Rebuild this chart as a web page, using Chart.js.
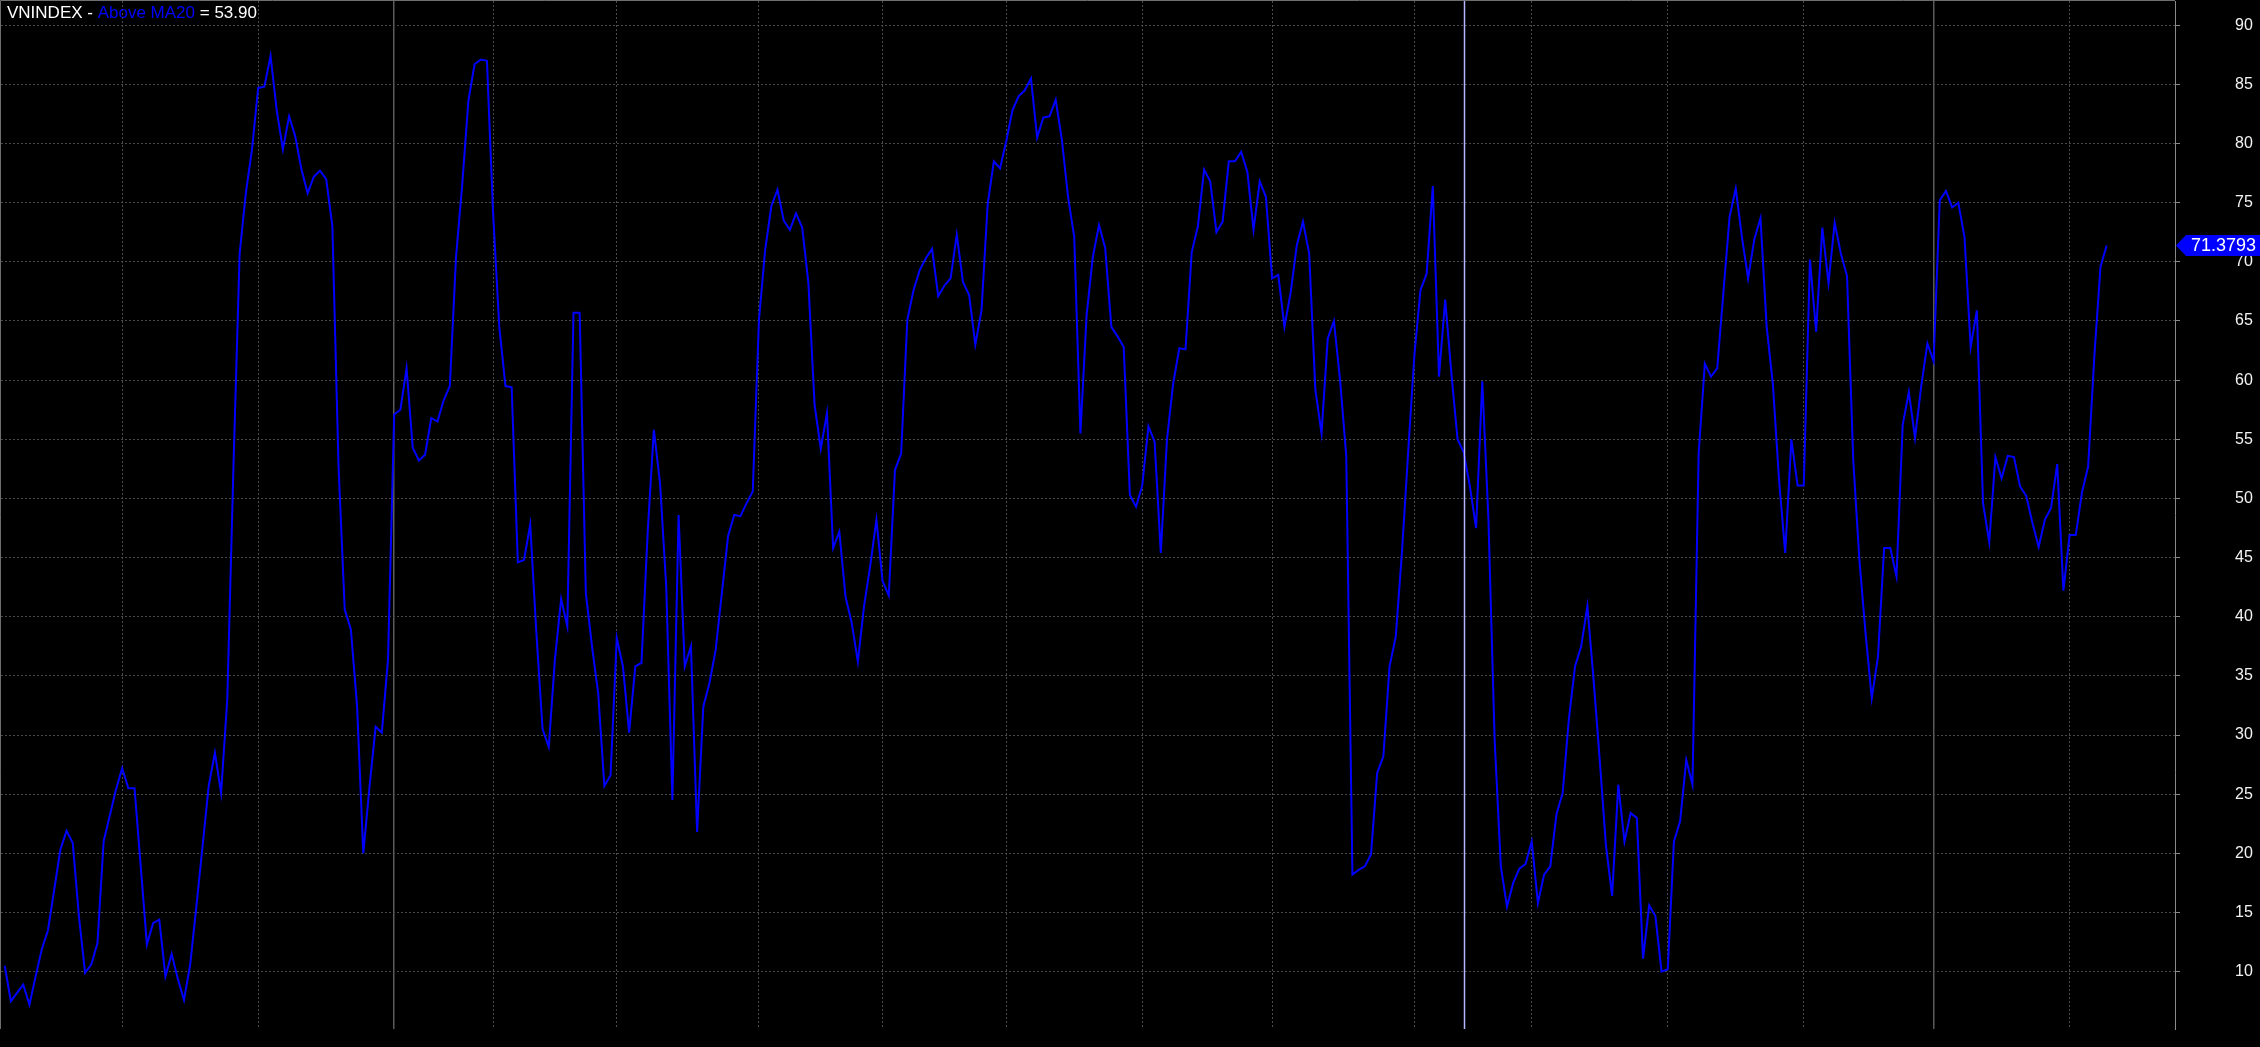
<!DOCTYPE html>
<html>
<head>
<meta charset="utf-8">
<title>VNINDEX - Above MA20</title>
<script src="https://cdn.jsdelivr.net/npm/chart.js@4.4.0/dist/chart.umd.min.js"></script>
<style>
  html, body { margin: 0; padding: 0; background: #000; overflow: hidden; }
  #wrap { width: 2260px; height: 1047px; }
</style>
</head>
<body>
<div id="wrap"><canvas id="breadthChart" width="2260" height="1047"></canvas></div>
<script>
// % of VNINDEX stocks closing above their 20-day moving average (one value per session)
const aboveMA20 = [
  10.5, 7.5, 8.2, 8.9, 7.2, 9.6, 11.9, 13.5, 16.9, 20.3,
  21.9, 20.9, 14.7, 9.9, 10.6, 12.4, 21.0, 23.2, 25.4, 27.2,
  25.5, 25.5, 18.9, 12.3, 14.1, 14.4, 9.6, 11.5, 9.4, 7.6,
  10.6, 15.5, 20.6, 25.7, 28.5, 25.1, 33.0, 52.7, 70.7, 75.8,
  79.5, 84.7, 84.8, 87.4, 82.8, 79.5, 82.3, 80.6, 77.8, 75.8,
  77.2, 77.7, 77.0, 73.0, 52.7, 40.6, 38.9, 32.4, 20.0, 25.6,
  30.7, 30.2, 36.4, 57.1, 57.5, 61.0, 54.3, 53.2, 53.7, 56.8,
  56.5, 58.3, 59.5, 70.4, 76.5, 83.6, 86.7, 87.1, 87.0, 74.1,
  64.5, 59.5, 59.4, 44.6, 44.8, 47.8, 38.6, 30.5, 29.0, 36.4,
  41.5, 39.2, 65.7, 65.7, 42.0, 37.5, 33.5, 25.7, 26.6, 38.2,
  35.8, 30.2, 35.8, 36.1, 47.1, 55.8, 51.3, 42.6, 24.5, 48.6,
  35.8, 37.5, 21.8, 32.4, 34.4, 37.2, 42.0, 46.8, 48.6, 48.5,
  49.6, 50.6, 65.1, 71.0, 74.7, 76.1, 73.5, 72.7, 74.1, 72.9,
  68.2, 57.9, 54.2, 57.2, 45.8, 47.2, 41.7, 39.5, 36.2, 40.9,
  44.3, 48.2, 43.0, 41.8, 52.4, 53.8, 65.1, 67.6, 69.3, 70.3,
  71.1, 67.1, 68.0, 68.6, 72.3, 68.3, 67.2, 63.0, 65.9, 74.9,
  78.5, 77.9, 80.2, 82.8, 84.0, 84.5, 85.5, 80.5, 82.2, 82.3,
  83.7, 80.3, 75.5, 72.1, 55.5, 65.5, 70.4, 73.1, 71.2, 64.5,
  63.7, 62.8, 50.3, 49.3, 51.1, 56.1, 54.8, 45.4, 55.0, 59.7,
  62.7, 62.6, 70.8, 73.0, 77.8, 76.8, 72.5, 73.4, 78.5, 78.5,
  79.3, 77.6, 72.7, 76.8, 75.5, 68.6, 68.9, 64.5, 67.4, 71.4,
  73.4, 70.7, 59.2, 55.5, 63.5, 65.0, 60.0, 53.6, 18.2, 18.6,
  18.9, 19.9, 26.8, 28.2, 35.8, 38.3, 45.4, 53.8, 62.0, 67.6,
  69.0, 76.4, 60.3, 66.8, 60.6, 55.0, 53.9, 51.0, 47.5, 59.9,
  48.2, 29.6, 18.9, 15.5, 17.5, 18.7, 19.1, 21.0, 15.8, 18.2,
  18.9, 23.3, 25.1, 31.3, 35.8, 37.5, 40.9, 34.7, 27.9, 20.7,
  16.4, 25.8, 21.0, 23.4, 23.0, 11.1, 15.6, 14.7, 10.0, 10.2,
  21.0, 22.7, 27.9, 25.8, 53.8, 61.4, 60.3, 61.0, 67.4, 73.8,
  76.2, 72.1, 68.6, 71.9, 73.7, 64.5, 59.7, 51.6, 45.4, 55.0,
  51.1, 51.1, 70.2, 64.1, 72.9, 68.2, 73.3, 70.7, 68.8, 53.3,
  44.8, 38.6, 33.1, 36.6, 45.8, 45.8, 43.4, 56.2, 59.0, 55.1,
  59.5, 63.1, 61.6, 75.2, 76.0, 74.6, 75.0, 72.1, 62.8, 65.9,
  49.6, 46.3, 53.5, 51.7, 53.6, 53.5, 51.0, 50.2, 47.9, 45.9,
  48.2, 49.2, 52.9, 42.2, 46.9, 46.9, 50.5, 52.7, 62.0, 69.6,
  71.3793
];

// session indexes where a new month starts (vertical grid lines)
const monthTicks = [19, 41, 63, 79, 99, 122, 142, 162, 184, 205, 228, 247, 269, 291, 312, 334];
// first session of a new year: drawn as solid separators
const yearTicks = [63, 312];
const yTicks = [10, 15, 20, 25, 30, 35, 40, 45, 50, 55, 60, 65, 70, 75, 80, 85, 90];

const cursorIndex = 236;
const tickerName = 'VNINDEX';
const seriesName = 'Above MA20';

const FONT = '"Liberation Sans", Arial, sans-serif';
Chart.defaults.font.family = FONT;

// title, cursor line, frame and last value tag
const overlayPlugin = {
  id: 'overlay',
  afterDraw(chart) {
    const { ctx, chartArea: area, scales: { x, y } } = chart;
    ctx.save();

    ctx.strokeStyle = '#6e6e6e';
    ctx.lineWidth = 1;
    ctx.beginPath();
    ctx.moveTo(0.5, area.bottom);
    ctx.lineTo(0.5, 0.5);
    ctx.lineTo(area.right, 0.5);
    ctx.stroke();

    const cx = Math.round(x.getPixelForValue(cursorIndex)) + 0.5;
    ctx.strokeStyle = '#b4b4ff';
    ctx.lineWidth = 1.5;
    ctx.beginPath();
    ctx.moveTo(cx, area.top);
    ctx.lineTo(cx, area.bottom);
    ctx.stroke();

    const last = aboveMA20[aboveMA20.length - 1];
    const ty = y.getPixelForValue(last);
    const tx = area.right + 1;
    ctx.fillStyle = '#0000ff';
    ctx.beginPath();
    ctx.moveTo(tx, ty);
    ctx.lineTo(tx + 10, ty - 10.5);
    ctx.lineTo(chart.width, ty - 10.5);
    ctx.lineTo(chart.width, ty + 10.5);
    ctx.lineTo(tx + 10, ty + 10.5);
    ctx.closePath();
    ctx.fill();
    ctx.fillStyle = '#ffffff';
    ctx.font = '18px ' + FONT;
    ctx.textAlign = 'right';
    ctx.textBaseline = 'middle';
    ctx.fillText(last.toFixed(4), chart.width - 4, ty + 1);

    // "VNINDEX - Above MA20 = 53.90"
    const parts = [
      [tickerName + ' - ', '#ffffff'],
      [seriesName, '#0000ff'],
      [' = ' + aboveMA20[cursorIndex].toFixed(2), '#ffffff']
    ];
    ctx.font = '17px ' + FONT;
    ctx.textAlign = 'left';
    ctx.textBaseline = 'alphabetic';
    let px = 7;
    parts.forEach(([text, color]) => {
      ctx.fillStyle = color;
      ctx.fillText(text, px, 17.5);
      px += ctx.measureText(text).width;
    });

    ctx.restore();
  }
};

new Chart(document.getElementById('breadthChart'), {
  type: 'line',
  data: {
    datasets: [{
      label: seriesName,
      data: aboveMA20.map((v, i) => ({ x: i, y: v })),
      borderColor: '#0000ff',
      borderWidth: 2,
      pointRadius: 0,
      tension: 0,
      fill: false
    }]
  },
  options: {
    responsive: false,
    animation: false,
    devicePixelRatio: 1,
    events: [],
    layout: { padding: { top: 1, right: 5, bottom: 18, left: 1 } },
    plugins: {
      legend: { display: false },
      tooltip: { enabled: false }
    },
    scales: {
      x: {
        type: 'linear',
        min: -0.6,
        max: 351.05,
        afterBuildTicks: scale => { scale.ticks = monthTicks.map(v => ({ value: v })); },
        afterFit: scale => {
          scale.height = 0;
          scale.paddingLeft = 0;
          scale.paddingRight = 0;
        },
        ticks: { display: false },
        grid: {
          drawTicks: false,
          color: c => (c.tick && yearTicks.includes(c.tick.value)) ? '#5a5a5a' : '#4b4b4b',
          lineWidth: c => (c.tick && yearTicks.includes(c.tick.value)) ? 1.5 : 1
        },
        border: {
          display: false,
          dash: c => (c.tick && yearTicks.includes(c.tick.value)) ? [] : [2, 2]
        }
      },
      y: {
        position: 'right',
        min: 5.15,
        max: 92.05,
        afterBuildTicks: scale => { scale.ticks = yTicks.map(v => ({ value: v })); },
        afterFit: scale => {
          scale.width = 80;
          scale.paddingTop = 0;
          scale.paddingBottom = 0;
        },
        ticks: {
          padding: 55,
          color: '#f2f2f2',
          font: { size: 16 }
        },
        grid: {
          color: '#4b4b4b',
          tickColor: '#8a8a8a',
          tickLength: 5,
          tickBorderDash: []
        },
        border: {
          color: '#8a8a8a',
          width: 1,
          dash: [2, 2]
        }
      }
    }
  },
  plugins: [overlayPlugin]
});
</script>
</body>
</html>
